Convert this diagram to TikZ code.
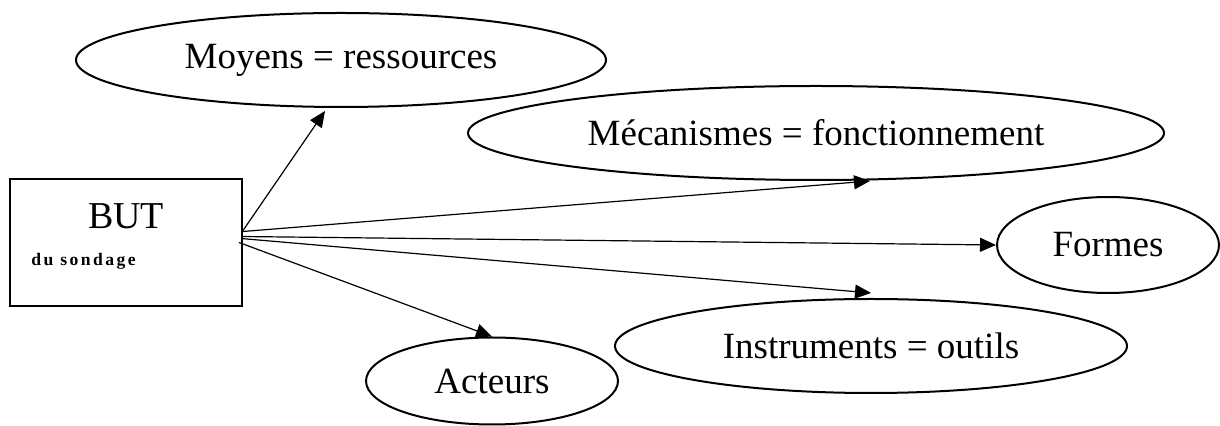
\documentclass[tikz,border=0pt]{standalone}
\usepackage{fontspec}
\setmainfont{Liberation Serif}
\newfontfamily\spacedfont[LetterSpace=14]{Liberation Serif}
\usetikzlibrary{arrows.meta,shapes.geometric}

\begin{document}
\begin{tikzpicture}[x=0.5pt,y=-0.5pt,
  bubble/.style={draw, ellipse, line width=1pt, inner sep=0pt, font=\fontsize{18.5}{22}\selectfont},
  link/.style={-{Triangle[length=8pt,width=7pt]}, line width=0.6pt}]
\useasboundingbox (0,0) rectangle (1220,426);

\node[draw, line width=1pt, minimum width=116pt, minimum height=63.5pt, inner sep=0pt] (but) at (126,242.5) {};
\node[font=\fontsize{19}{22}\selectfont, inner sep=0pt] (butlabel) at (126,216) {BUT};
\node[anchor=west, font=\fontsize{8.8}{10}\spacedfont\bfseries, inner sep=0pt] (sondage) at (31,261) {du sondage};

\node[bubble, minimum width=265pt, minimum height=47pt] (moyens) at (341,60) {Moyens = ressources};
\node[bubble, minimum width=348pt, minimum height=47pt] (meca) at (816,133) {Mécanismes = fonctionnement};
\node[bubble, minimum width=111pt, minimum height=48pt] (formes) at (1108,245) {Formes};
\node[bubble, minimum width=256pt, minimum height=47pt] (instr) at (871,346) {Instruments = outils};
\node[bubble, minimum width=126pt, minimum height=43.5pt] (acteurs) at (492,381) {Acteurs};

\draw[link] ([yshift=6pt]but.east) -- ([xshift=-8pt,yshift=-1.5pt]moyens.south);
\draw[link] ([yshift=5.5pt]but.east) -- ([xshift=27pt]meca.south);
\draw[link] ([xshift=-1pt,yshift=3pt]but.east) -- (formes.west);
\draw[link] ([xshift=-1pt,yshift=2pt]but.east) -- ([yshift=2.5pt]instr.north);
\draw[link] ([xshift=-2pt]but.east) -- (acteurs.north);
\end{tikzpicture}
\end{document}
